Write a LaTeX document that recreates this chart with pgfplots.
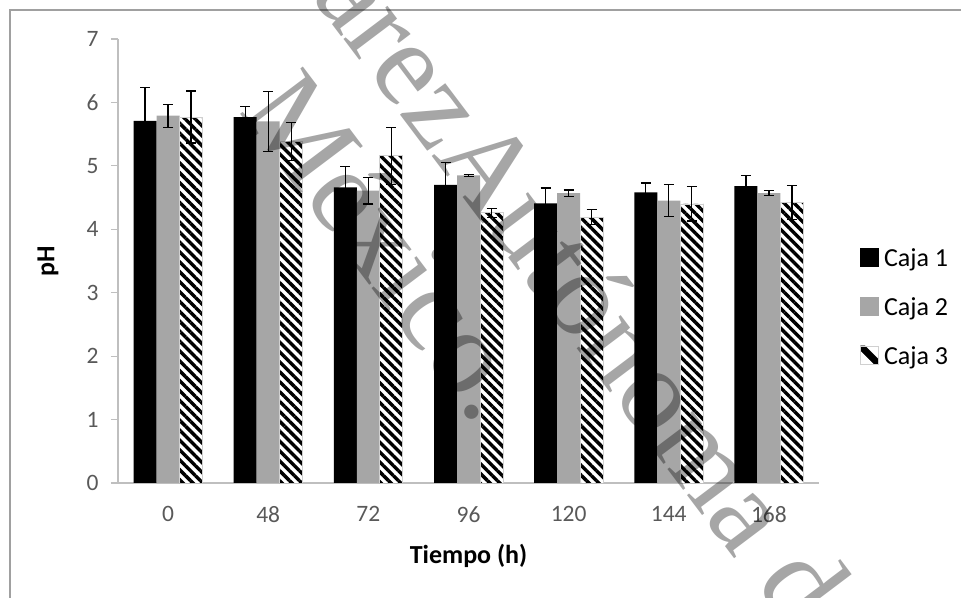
\documentclass[border=0pt]{standalone}
\usepackage{pgfplots}
\pgfplotsset{compat=1.18}
\usepackage{pgfplotstable}
\usepackage{fontspec}
\setmainfont{Carlito}
\newfontfamily\markfont{Liberation Serif}
\usetikzlibrary{patterns.meta}

\definecolor{axisgray}{HTML}{BFBFBF}
\definecolor{labelgray}{HTML}{595959}
\definecolor{bargray}{HTML}{A6A6A6}
\definecolor{framegray}{HTML}{A0A0A0}
\definecolor{edgegray}{HTML}{D0D0D0}

% pH per box: mean and standard deviation at each sampling time
\pgfplotstableread{
x  c1   e1   c2   e2   c3   e3
0  5.71 0.53 5.79 0.18 5.77 0.41
1  5.77 0.17 5.70 0.47 5.38 0.30
2  4.66 0.33 4.61 0.21 5.16 0.45
3  4.70 0.35 4.85 0.02 4.26 0.07
4  4.41 0.24 4.57 0.05 4.19 0.12
5  4.58 0.15 4.45 0.25 4.40 0.27
6  4.68 0.17 4.57 0.04 4.42 0.27
}\phdata

\pgfplotsset{
  errstyle/.style={
    error bars/y dir=both, error bars/y explicit,
    error bars/error bar style={draw=black, line width=1.2pt, solid},
    error bars/error mark options={rotate=90, draw=black, line width=1.2pt,
      mark size=5pt, solid}
  }
}

\begin{document}
\begin{tikzpicture}[x=1pt,y=1pt]
\useasboundingbox (0,0) rectangle (961,597);
% chart frame
\draw[framegray, line width=1.4pt] (10,-5) -- (10,587) -- (970,587);
\begin{axis}[
  at={(118pt,114pt)}, anchor=south west,
  width=701pt, height=444pt, scale only axis,
  xmin=-0.5, xmax=6.5, ymin=0, ymax=7,
  axis x line*=bottom, axis y line*=left,
  axis line style={axisgray, line width=1.1pt, -},
  xtick=data, xticklabels={0,48,72,96,120,144,168},
  ytick={0,1,...,7},
  x tick style={draw=none},
  y tick style={axisgray, line width=1.1pt},
  tick align=outside, major tick length=7pt,
  ticklabel style={font=\fontsize{23.5}{28}\selectfont, text=labelgray},
  /pgf/number format/assume math mode=true,
  xticklabel style={yshift=-13pt},
  yticklabel style={xshift=-9pt},
  ybar=0pt, bar width=23pt,
  xlabel={Tiempo (h)},
  xlabel style={at={(axis description cs:0.5,-0.164)}, anchor=center,
    font=\bfseries\fontsize{26}{31}\selectfont},
  ylabel={pH},
  ylabel style={at={(axis description cs:-0.0999,0.5)}, anchor=center,
    font=\bfseries\fontsize{26}{31}\selectfont},
  legend style={at={(axis description cs:1.0585,0.5338)}, anchor=north west,
    draw=none, fill=none, inner sep=0pt, row sep=27.5pt,
    font=\fontsize{26}{31}\selectfont,
    nodes={inner sep=0pt},
    /tikz/every odd column/.append style={column sep=5pt},
    /tikz/every even column/.append style={text height=20pt, text depth=7pt}},
  legend cell align=left,
]
% legend swatches (listed first, named by \legend below)
\addlegendimage{legend image code/.code={
  \fill[black] (0pt,-9pt) rectangle (18pt,9pt);}}
\addlegendimage{legend image code/.code={
  \fill[bargray] (0pt,-9pt) rectangle (18pt,9pt);}}
\addlegendimage{legend image code/.code={
  \fill[white] (0pt,-9pt) rectangle (18pt,9pt);
  \fill[black] (0pt,9pt) -- (4.5pt,9pt) -- (18pt,-4.5pt) -- (18pt,-9pt)
    -- (13.5pt,-9pt) -- (0pt,4.5pt) -- cycle;
  \draw[edgegray, line width=0.8pt] (0pt,-9pt) rectangle (18pt,9pt);}}
% bars with error bars
\addplot[fill=black, draw=none, errstyle]
  table[x=x, y=c1, y error=e1]{\phdata};
\addplot[fill=bargray, draw=none, errstyle]
  table[x=x, y=c2, y error=e2]{\phdata};
\addplot[draw=edgegray, line width=0.8pt, preaction={fill=white},
  pattern={Lines[angle=-45, distance=7pt, line width=3.4pt]}, pattern color=black,
  errstyle]
  table[x=x, y=c3, y error=e3]{\phdata};
\legend{Caja 1, Caja 2, Caja 3}
\end{axis}
% watermark text laid over the plot
\begin{scope}[opacity=0.35]
\node[rotate=-53, anchor=base west, inner sep=0pt, text=black,
  font=\markfont\fontsize{120}{120}\selectfont] at (431,442) {Autónoma de Tabasco.};
\node[rotate=-53, anchor=base east, inner sep=0pt, text=black,
  font=\markfont\fontsize{120}{120}\selectfont] at (431,442) {Juárez\ };
\node[rotate=-53, anchor=base west, inner sep=0pt, text=black,
  font=\markfont\fontsize{120}{120}\selectfont] at (238,486) {México.};
\end{scope}
\end{tikzpicture}
\end{document}
